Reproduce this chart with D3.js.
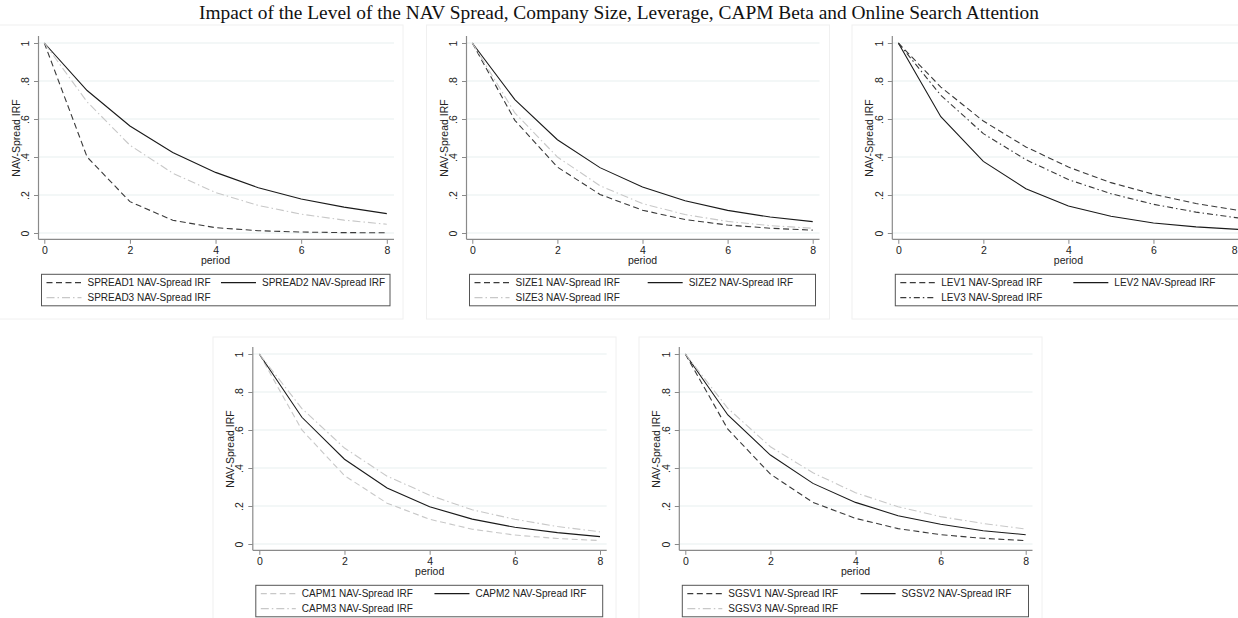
<!DOCTYPE html>
<html>
<head>
<meta charset="utf-8">
<script src="https://cdn.jsdelivr.net/npm/d3@7"></script>
<style>
  html, body { margin: 0; padding: 0; background: #ffffff; }
  svg { display: block; }
</style>
</head>
<body>
<svg id="chart" width="1238" height="618"></svg>
<script>
// ---------------- DATA ----------------
const chartTitle = "Impact of the Level of the NAV Spread, Company Size, Leverage, CAPM Beta and Online Search Attention";
const periods = [0, 1, 2, 3, 4, 5, 6, 7, 8];
const xTicks = [0, 2, 4, 6, 8];
const yTicks = [0, 0.2, 0.4, 0.6, 0.8, 1];
const yTickLabels = ["0", ".2", ".4", ".6", ".8", "1"];
const xAxisTitle = "period";
const yAxisTitle = "NAV-Spread IRF";

const spread1 = [1, 0.40, 0.165, 0.067, 0.028, 0.012, 0.005, 0.002, 0.001];
const spread2 = [1, 0.75, 0.563, 0.424, 0.319, 0.238, 0.179, 0.136, 0.102];
const spread3 = [1, 0.69, 0.462, 0.315, 0.213, 0.145, 0.099, 0.068, 0.046];

const size1 = [1, 0.593, 0.347, 0.203, 0.120, 0.071, 0.042, 0.025, 0.015];
const size2 = [1, 0.702, 0.491, 0.344, 0.242, 0.170, 0.119, 0.084, 0.060];
const size3 = [1, 0.632, 0.400, 0.249, 0.155, 0.097, 0.061, 0.039, 0.025];

const lev1 = [1, 0.768, 0.589, 0.453, 0.347, 0.265, 0.204, 0.155, 0.119];
const lev2 = [1, 0.612, 0.377, 0.233, 0.142, 0.088, 0.053, 0.032, 0.019];
const lev3 = [1, 0.725, 0.523, 0.386, 0.281, 0.207, 0.151, 0.110, 0.079];

const capm1 = [1, 0.600, 0.360, 0.215, 0.130, 0.078, 0.047, 0.029, 0.018];
const capm2 = [1, 0.667, 0.446, 0.295, 0.196, 0.131, 0.088, 0.060, 0.039];
const capm3 = [1, 0.713, 0.505, 0.357, 0.257, 0.180, 0.130, 0.092, 0.064];

const sgsv1 = [1, 0.604, 0.368, 0.219, 0.135, 0.081, 0.049, 0.030, 0.018];
const sgsv2 = [1, 0.679, 0.468, 0.319, 0.219, 0.149, 0.104, 0.070, 0.049];
const sgsv3 = [1, 0.714, 0.512, 0.375, 0.270, 0.196, 0.144, 0.108, 0.079];

const spreadLabels = ["SPREAD1 NAV-Spread IRF", "SPREAD2 NAV-Spread IRF", "SPREAD3 NAV-Spread IRF"];
const sizeLabels   = ["SIZE1 NAV-Spread IRF", "SIZE2 NAV-Spread IRF", "SIZE3 NAV-Spread IRF"];
const levLabels    = ["LEV1 NAV-Spread IRF", "LEV2 NAV-Spread IRF", "LEV3 NAV-Spread IRF"];
const capmLabels   = ["CAPM1 NAV-Spread IRF", "CAPM2 NAV-Spread IRF", "CAPM3 NAV-Spread IRF"];
const sgsvLabels   = ["SGSV1 NAV-Spread IRF", "SGSV2 NAV-Spread IRF", "SGSV3 NAV-Spread IRF"];

// ---------------- STYLES ----------------
const STY = {
  dashDark:     { color: "#3a3a3a", dash: "6,3.5" },
  solid:        { color: "#1a1a1a", dash: null },
  dashDotLight: { color: "#c8c8c8", dash: "8,3,1.5,3" },
  dashDotDark:  { color: "#3a3a3a", dash: "6,3,1.5,3" },
  dashLight:    { color: "#c8c8c8", dash: "6,3.5" }
};

// ---------------- LAYOUT ----------------
const panels = [
  { series: [spread1, spread2, spread3], labels: spreadLabels,
    styles: [STY.dashDark, STY.solid, STY.dashDotLight],
    frame: [-2, 25, 405, 294], axisX: 38.5, x0: 44.3, x8: 386.8, y1: 43, y0: 233, axisY: 239.3, gridR: 394 },
  { series: [size1, size2, size3], labels: sizeLabels,
    styles: [STY.dashDark, STY.solid, STY.dashDotLight],
    frame: [426.5, 25, 403, 294], axisX: 466.5, x0: 472.3, x8: 812.7, y1: 43, y0: 233, axisY: 239.3, gridR: 819.5 },
  { series: [lev1, lev2, lev3], labels: levLabels,
    styles: [STY.dashDark, STY.solid, STY.dashDotDark],
    frame: [852, 25, 403, 294], axisX: 892.3, x0: 898.3, x8: 1238.5, y1: 43, y0: 233, axisY: 239.3, gridR: 1245 },
  { series: [capm1, capm2, capm3], labels: capmLabels,
    styles: [STY.dashLight, STY.solid, STY.dashDotLight],
    frame: [213, 337, 403, 294], axisX: 252.8, x0: 259.3, x8: 600, y1: 354, y0: 544, axisY: 550.3, gridR: 606.7 },
  { series: [sgsv1, sgsv2, sgsv3], labels: sgsvLabels,
    styles: [STY.dashDark, STY.solid, STY.dashDotLight],
    frame: [639, 337, 403, 294], axisX: 679.3, x0: 685.3, x8: 1025.7, y1: 354, y0: 544, axisY: 550.3, gridR: 1032.5 }
];

const W = 1238;
const svg = d3.select("#chart");
const SANS = "'Liberation Sans', Arial, Helvetica, sans-serif";

svg.append("text")
  .attr("x", 619).attr("y", 19)
  .attr("text-anchor", "middle")
  .attr("font-family", "'Liberation Serif', 'DejaVu Serif', serif")
  .attr("font-size", 18)
  .attr("fill", "#111")
  .attr("textLength", 840)
  .attr("lengthAdjust", "spacingAndGlyphs")
  .text(chartTitle);

panels.forEach(p => {
  const g = svg.append("g");
  // faint panel frame
  g.append("rect")
    .attr("x", p.frame[0]).attr("y", p.frame[1])
    .attr("width", p.frame[2]).attr("height", p.frame[3])
    .attr("fill", "#ffffff").attr("stroke", "#f0f0f0").attr("stroke-width", 1);

  const x = d3.scaleLinear().domain([0, 8]).range([p.x0, p.x8]);
  const y = d3.scaleLinear().domain([0, 1]).range([p.y0, p.y1]);

  // gridlines
  g.append("g").selectAll("line").data(yTicks).join("line")
    .attr("x1", p.axisX).attr("x2", p.gridR)
    .attr("y1", d => y(d)).attr("y2", d => y(d))
    .attr("stroke", "#e8eff0").attr("stroke-width", 1.2);

  // y axis
  const yAx = g.append("g").attr("transform", `translate(${p.axisX},0)`)
    .call(d3.axisLeft(y).tickValues(yTicks).tickSize(4.5).tickPadding(3)
      .tickFormat((d, i) => yTickLabels[i]));
  yAx.select(".domain").attr("d", `M0,${p.y1 - 7}V${p.axisY}`).attr("stroke", "#8a8a8a").attr("stroke-width", 1.2);
  yAx.selectAll(".tick line").attr("stroke", "#8a8a8a").attr("stroke-width", 1);
  yAx.selectAll(".tick text")
    .attr("font-family", SANS).attr("font-size", 10.5).attr("fill", "#222")
    .attr("text-anchor", "middle")
    .attr("x", null).attr("dy", null)
    .attr("transform", "translate(-9.5,0) rotate(-90)");

  // x axis
  const xAx = g.append("g").attr("transform", `translate(0,${p.axisY})`)
    .call(d3.axisBottom(x).tickValues(xTicks).tickSize(4.5).tickPadding(2.5).tickFormat(d3.format("d")));
  xAx.select(".domain").attr("d", `M${p.axisX},0H${p.gridR}`).attr("stroke", "#8a8a8a").attr("stroke-width", 1.2);
  xAx.selectAll(".tick line").attr("stroke", "#8a8a8a").attr("stroke-width", 1);
  xAx.selectAll(".tick text")
    .attr("font-family", SANS).attr("font-size", 10.5).attr("fill", "#222")
    .attr("text-anchor", d => (x(d) + 4 > W ? "end" : "middle"))
    .attr("dx", d => (x(d) + 4 > W ? (W - 1 - x(d)) : 0));

  // axis titles
  g.append("text")
    .attr("x", (p.x0 + p.x8) / 2).attr("y", p.axisY + 24.5)
    .attr("text-anchor", "middle")
    .attr("font-family", SANS).attr("font-size", 10.5).attr("fill", "#222")
    .text(xAxisTitle);
  g.append("text")
    .attr("transform", `translate(${p.axisX - 19},${(p.y0 + p.y1) / 2}) rotate(-90)`)
    .attr("text-anchor", "middle")
    .attr("font-family", SANS).attr("font-size", 10.5).attr("fill", "#222")
    .text(yAxisTitle);

  // series lines
  const line = d3.line().x((d, i) => x(periods[i])).y(d => y(d));
  p.series.forEach((s, k) => {
    const st = p.styles[k];
    g.append("path").datum(s)
      .attr("d", line)
      .attr("fill", "none")
      .attr("stroke", st.color)
      .attr("stroke-width", 1.1)
      .attr("stroke-dasharray", st.dash);
  });

  // legend
  const lx0 = p.axisX + 3, lx1 = p.gridR - 4;
  const ly0 = p.axisY + 35, ly1 = ly0 + 31.5;
  g.append("rect")
    .attr("x", lx0).attr("y", ly0).attr("width", lx1 - lx0).attr("height", ly1 - ly0)
    .attr("fill", "#fff").attr("stroke", "#555").attr("stroke-width", 1);
  const bw = lx1 - lx0;
  const slots = [
    { kx: lx0 + 5, ky: ly0 + 8.3 },
    { kx: lx0 + bw * 0.515, ky: ly0 + 8.3 },
    { kx: lx0 + 5, ky: ly0 + 23.3 }
  ];
  p.series.forEach((s, k) => {
    const st = p.styles[k];
    const sl = slots[k];
    g.append("line")
      .attr("x1", sl.kx).attr("x2", sl.kx + 35)
      .attr("y1", sl.ky).attr("y2", sl.ky)
      .attr("stroke", st.color).attr("stroke-width", 1.1)
      .attr("stroke-dasharray", st.dash);
    g.append("text")
      .attr("x", sl.kx + 41).attr("y", sl.ky + 3.6)
      .attr("font-family", SANS).attr("font-size", 10).attr("fill", "#222")
      .text(p.labels[k]);
  });
});
</script>
</body>
</html>
